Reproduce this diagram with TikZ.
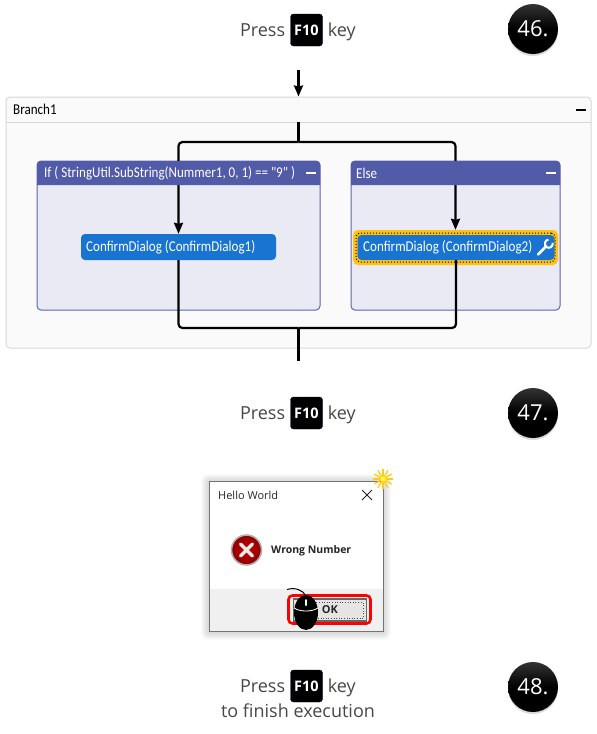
\documentclass[tikz,border=0pt]{standalone}
\usepackage{fontspec}
\usepackage{xcolor}
\usepackage{tikz}
\usetikzlibrary{shapes, arrows.meta, positioning, calc, shadows}
\setmainfont{Open Sans}
\newfontfamily\uifont[FakeStretch=0.87]{Carlito}

\definecolor{headblue}{HTML}{515BA8}
\definecolor{panelgray}{HTML}{E9EAF3}
\definecolor{panelline}{HTML}{5A66B0}
\definecolor{stepblue}{HTML}{1874D0}
\definecolor{haloyellow}{HTML}{FFC20E}
\definecolor{framegray}{HTML}{D8D8D8}

\begin{document}
\begin{tikzpicture}[
    x=1pt, y=-1pt,
    node distance=5pt,
    word/.style={font=\fontsize{18}{18}\selectfont, text=black!72, inner sep=0pt, text height=15pt, text depth=3pt},
    keycap/.style={rectangle, fill=black, draw=black!70!blue, line width=0.4pt, rounded corners=3pt, minimum size=32pt, inner sep=0pt, text=white, font=\fontsize{14.5}{14.5}\selectfont\bfseries},
    badge/.style={circle, minimum size=50pt, inner sep=0pt, top color=black!80, bottom color=black, middle color=black, text=white, font=\fontsize{22}{22}\selectfont, drop shadow={opacity=0.3, shadow xshift=0pt, shadow yshift=-2pt}},
    panel/.style={rectangle, draw=panelline, fill=panelgray, line width=1pt, rounded corners=4pt, minimum height=149pt},
    headtext/.style={inner sep=0pt, anchor=west, text=white, font=\uifont\fontsize{15}{15}\selectfont},
    stepbox/.style={rectangle, fill=stepblue, rounded corners=4pt, text=white, inner sep=0pt},
    flow/.style={line width=2.2pt, rounded corners=4pt},
    flowtip/.style={-{Stealth[length=11pt, width=9pt, inset=1pt]}},
    minus/.style={line width=2pt},
    dlgtext/.style={inner sep=0pt, anchor=west, text=black!85, font=\fontsize{11}{11}\selectfont},
]
\useasboundingbox (0,0) rectangle (597,734);

% Step 46
\node (key46) [keycap] at (306.5,30) {F10};
\node (press46) [word, left=of key46] {Press};
\node (word46) [word, right=of key46] {key};
\node (badge46) [badge] at (533,29) {46.};

% Branch container
\node (branch) [rectangle, draw=framegray, fill=black!2, line width=1pt, rounded corners=4pt, minimum width=585pt, minimum height=251pt] at (298.5,222.5) {};
\draw [framegray, line width=1pt] (6,122) -- (591,122);
\node (branchtitle) [headtext, text=black, anchor=west] at (13,109.5) {Branch1};
\draw [minus, black] (576,109.5) -- (586,109.5);

% Panels
\node (ifpanel) [panel, minimum width=283pt] at (178.5,235.5) {};
\node (elsepanel) [panel, minimum width=209pt] at (455.5,235.5) {};

% Steps
\node (halo) [rectangle, fill=haloyellow, rounded corners=5pt, minimum width=205pt, minimum height=35pt] at (455.5,247.5) {};
\node (dots) [rectangle, draw=black, dotted, line width=1pt, rounded corners=4pt, minimum width=199pt, minimum height=29pt] at (455.5,247.5) {};
\node (confirm1) [stepbox, minimum width=195pt, minimum height=26pt] at (178.5,247) {};
\node (confirm2) [stepbox, minimum width=197pt, minimum height=25pt] at (456,247.5) {};
\node (confirm1text) [headtext] at (86,247.5) {ConfirmDialog (ConfirmDialog1)};
\node (confirm2text) [headtext] at (363,247.5) {ConfirmDialog (ConfirmDialog2)};

% Wrench
\draw [white, line width=2.6pt, line cap=round] (538,254.5) -- (546,246.5);
\draw [white, line width=2pt] (548.5,239.5) .. controls (544.5,240) and (544,245) .. (546.5,247) .. controls (549,249) and (553,247) .. (552.8,243);

% Arrows
\coordinate (start) at (298.5,70);
\coordinate (split) at (298.5,122);
\coordinate (splitbar) at (298.5,142);
\coordinate (mergebar) at (298.5,328);
\coordinate (finish) at (298.5,361);
\draw [flowtip, flow] (start) -- (branch.north);
\draw [flow] (split) -- (splitbar);
\draw [flowtip, flow] (splitbar) -| (confirm1.north);
\draw [flowtip, flow] (splitbar) -| (halo.north);
\draw [flow] (confirm1.south) |- (mergebar);
\draw [flow] (confirm2.south) |- (mergebar);
\draw [flow] (mergebar) -- (finish);

% Panel heads
\fill [headblue] (37,185) [rounded corners=4pt] -- (37,161) -- (320,161) [sharp corners] -- (320,185) -- cycle;
\fill [headblue] (351,185) [rounded corners=4pt] -- (351,161) -- (560,161) [sharp corners] -- (560,185) -- cycle;
\node (iftext) [headtext] at (44,173) {If ( StringUtil.SubString(Nummer1, 0, 1) == "9" )};
\node (elsetext) [headtext] at (356,173) {Else};
\draw [minus, white] (306,173) -- (316,173);
\draw [minus, white] (546,173) -- (556,173);

% Step 47
\node (key47) [keycap] at (306.5,413) {F10};
\node (press47) [word, left=of key47] {Press};
\node (word47) [word, right=of key47] {key};
\node (badge47) [badge] at (533,413) {47.};

% Dialog
\foreach \s in {1,...,8} {
    \fill [black, opacity=0.02, rounded corners=\s] (209-\s,481-\s+1) rectangle (383+\s,631+\s+1);
}
\node (dialog) [rectangle, draw=black!55, fill=white, line width=1pt, minimum width=174pt, minimum height=150pt] at (296,556) {};
\fill [black!6] (209.5,589) rectangle (382.5,630.5);
\node (dlgtitle) [dlgtext] at (218,495) {Hello World};
\draw [black!85, line width=0.9pt] (362,490) -- (372,500) (372,490) -- (362,500);
\node (erroricon) [circle, draw=black!30, line width=1.6pt, inner color=red!80!black, outer color=red!55!black, minimum size=30pt, inner sep=0pt] at (246.5,550) {};
\draw [black!8, line width=3.4pt, line cap=round] (240.5,544) -- (252.5,556) (252.5,544) -- (240.5,556);
\node (dlgtext) [dlgtext, font=\fontsize{10.5}{10.5}\selectfont\bfseries] at (271,551) {Wrong Number};
\node (okring) [rectangle, draw=red, line width=2.6pt, rounded corners=4pt, minimum width=82pt, minimum height=28pt] at (329.5,609.5) {};
\node (okbutton) [rectangle, draw=black!60, fill=black!10, line width=1.4pt, minimum width=73pt, minimum height=22pt, inner sep=0pt] at (330,610) {};
\draw [black!70, dotted, line width=0.6pt] (297,602.5) rectangle (363,618);
\node (oktext) [inner sep=0pt, font=\fontsize{11}{11}\selectfont\bfseries, text=black!85] at (330,609.5) {OK};

% Mouse
\draw [black, line width=1pt] (287,589.5) .. controls (295,587) and (303,590) .. (306,596);
\fill [black] (306,612.5) ellipse [x radius=12, y radius=17.5];
\draw [white, line width=0.8pt] (294,608) .. controls (300,612) and (312,612) .. (318,608);
\draw [white, line width=2pt, line cap=round] (306,600) -- (306,605);

% Flash
\foreach \a in {0,30,...,330} {
    \draw [haloyellow!80!yellow, line width=1.3pt] (383,479) -- ++(\a:10);
}
\fill [white!40!yellow] (383,479) circle [radius=2.5];

% Step 48
\node (key48) [keycap] at (306.5,686) {F10};
\node (press48) [word, left=of key48] {Press};
\node (word48) [word, right=of key48] {key};
\node (finishtext) [word] at (298,711) {to finish execution};
\node (badge48) [badge] at (533,687) {48.};

\end{tikzpicture}
\end{document}
